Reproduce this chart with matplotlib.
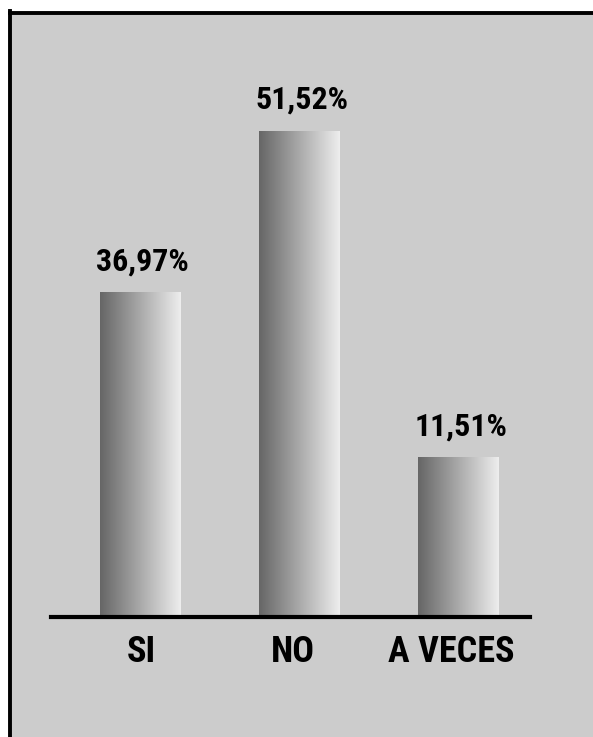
import matplotlib.pyplot as plt
import numpy as np
from matplotlib.lines import Line2D
from matplotlib.patches import Rectangle

categories = ["SI", "NO", "A VECES"]
percent_labels = ["36,97%", "51,52%", "11,51%"]
# the original graphic is not drawn to scale, so the bar heights are read
# off the picture separately from the printed percentages
bar_heights = [34.4, 51.5, 16.9]

W, H = 593, 737
fig = plt.figure(figsize=(W / 100, H / 100), dpi=100)
fig.patch.set_facecolor("white")

# Gray panel with the black frame on the left and top
fig.patches.append(Rectangle((9.5 / W, 0), 1, (H - 12.5) / H, transform=fig.transFigure,
                             facecolor="#cccccc", edgecolor="none", zorder=-10))
fig.lines.append(Line2D([9.5 / W, 9.5 / W], [0, (H - 11) / H], transform=fig.transFigure,
                        color="black", lw=2.8, solid_capstyle="projecting", zorder=-5))
fig.lines.append(Line2D([9.5 / W, 1], [(H - 12.5) / H, (H - 12.5) / H], transform=fig.transFigure,
                        color="black", lw=2.8, solid_capstyle="projecting", zorder=-5))

# Axes: baseline at y=617 px, spans x=51..530 px
unit = 159.0
x0_px = 140.0
left_px, right_px = 51, 530
base_px = 617
top_px = 60
ax = fig.add_axes([left_px / W, (H - base_px) / H, (right_px - left_px) / W, (base_px - top_px) / H])
ax.set_facecolor("none")
px_per_val = (base_px - 131) / 51.5

for s in ["top", "right", "left"]:
    ax.spines[s].set_visible(False)
ax.spines["bottom"].set_linewidth(3)
ax.spines["bottom"].set_color("black")
ax.set_yticks([])

font = ["Roboto Condensed", "Liberation Sans Narrow", "Roboto", "DejaVu Sans"]

x = np.arange(len(categories))
width = 81 / unit
grad = np.linspace(0.40, 0.93, 256).reshape(1, -1)
bars = ax.bar(x, bar_heights, width=width, color="none", edgecolor="none")
for b in bars:
    ax.imshow(grad, cmap="gray", vmin=0, vmax=1, aspect="auto",
              extent=[b.get_x(), b.get_x() + b.get_width(), 0, b.get_height()],
              interpolation="bilinear", zorder=1)
ax.set_xlim((left_px - x0_px) / unit, (right_px - x0_px) / unit)
ax.set_ylim(0, (base_px - top_px) / px_per_val)

for xi, h, lab in zip(x, bar_heights, percent_labels):
    ax.annotate(lab, (xi, h), xytext=(2, 16), textcoords="offset points",
                ha="center", va="baseline", fontsize=23, fontweight="bold",
                family=font)

ax.set_xticks(x)
ax.set_xticklabels(categories, fontsize=26, fontweight="bold", family=font)
ax.tick_params(axis="x", length=0, pad=12)
# the printed category names sit a little off the bar centres
for t, dx in zip(ax.get_xticklabels(), [1, -6, -7]):
    t.set_x(t.get_position()[0])
    t.set_transform(t.get_transform() + plt.matplotlib.transforms.ScaledTranslation(dx / 100, 0, fig.dpi_scale_trans))

fig.savefig("out.png", dpi=100)
